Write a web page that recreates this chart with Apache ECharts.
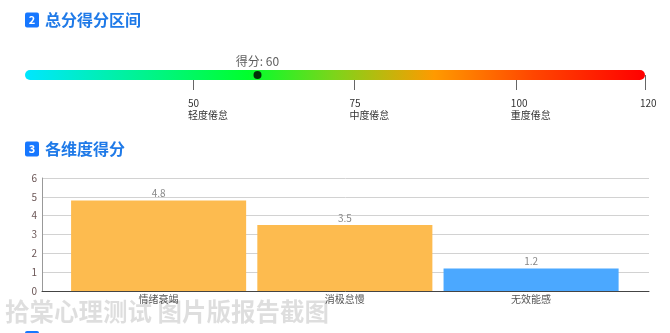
<!DOCTYPE html>
<html>
<head>
<meta charset="utf-8">
<script src="https://cdn.jsdelivr.net/npm/echarts@6/dist/echarts.min.js"></script>
<style>
html, body { margin: 0; padding: 0; background: #fff; }
#main { width: 670px; height: 333px; }
</style>
</head>
<body>
<div id="main"></div>
<script>
// total score range
var scoreMin = 24;
var scoreMax = 120;
var totalScore = 60;
var levelTicks = [50, 75, 100, 120];
var levelNames = ['轻度倦怠', '中度倦怠', '重度倦怠', ''];

// dimension scores
var dimNames = ['情绪衰竭', '消极怠慢', '无效能感'];
var dimScores = [4.8, 3.5, 1.2];
var dimAxisMax = 6;

var dimColors = ['#fdbb4f', '#fdbb4f', '#4ba8ff'];
var fontCN = '"Noto Sans CJK SC", "Noto Sans", sans-serif';

var chart = echarts.init(document.getElementById('main'));

var heading = function(num, title, y) {
    return [
        { type: 'rect', shape: { x: 25, y: y - 7.5, width: 14, height: 15, r: 2 }, style: { fill: '#1677ff' } },
        { type: 'text', x: 32, y: y, style: { text: num, font: 'bold 11px ' + fontCN, fill: '#fff', align: 'center', verticalAlign: 'middle' } },
        { type: 'text', x: 45, y: y, style: { text: title, font: 'bold 16px ' + fontCN, fill: '#1f7ae8', verticalAlign: 'middle' } }
    ];
};

var option = {
    animation: false,
    textStyle: { fontFamily: fontCN },
    grid: [
        { left: 25, right: 25, top: 70, height: 10 },
        { left: 42, right: 21, top: 178, bottom: 42 },
        { left: 65.5, right: 45.8, top: 178, bottom: 42 }
    ],
    xAxis: [
        {
            gridIndex: 0, type: 'value', min: scoreMin, max: scoreMax,
            axisLine: { show: false },
            splitLine: { show: false },
            axisTick: { show: true, customValues: levelTicks, length: 15, lineStyle: { color: '#666' } },
            axisLabel: {
                show: true, customValues: levelTicks, margin: 17, align: 'left',
                padding: [0, 0, 0, -5],
                fontSize: 10, lineHeight: 12, color: '#333',
                formatter: function(v) {
                    var i = levelTicks.indexOf(v);
                    return levelNames[i] ? v + '\n' + levelNames[i] : String(v);
                }
            }
        },
        {
            gridIndex: 1, type: 'category', data: dimNames,
            axisLine: { show: true, lineStyle: { color: '#444' } },
            axisTick: { show: false },
            axisLabel: { show: false }
        },
        {
            gridIndex: 2, type: 'category', data: dimNames,
            axisLine: { show: false },
            axisTick: { show: false },
            axisLabel: { fontSize: 10, color: '#555', margin: 3 }
        }
    ],
    yAxis: [
        { gridIndex: 0, type: 'value', min: -1, max: 1, show: false },
        {
            gridIndex: 1, type: 'value', min: 0, max: dimAxisMax, interval: 1,
            axisLine: { show: true, lineStyle: { color: '#999' } },
            axisTick: { show: false },
            axisLabel: { fontSize: 10, color: '#6b5656', margin: 5 },
            splitLine: { lineStyle: { color: '#d2d2d2' } }
        },
        { gridIndex: 2, type: 'value', min: 0, max: dimAxisMax, show: false }
    ],
    series: [
        {
            type: 'custom',
            xAxisIndex: 0, yAxisIndex: 0,
            clip: false,
            encode: { x: [0, 1], y: 2 },
            data: [[scoreMin, scoreMax, 0]],
            renderItem: function(params, api) {
                var start = api.coord([api.value(0), api.value(2)]);
                var end = api.coord([api.value(1), api.value(2)]);
                var h = 10;
                return {
                    type: 'rect',
                    shape: { x: start[0], y: start[1] - h / 2, width: end[0] - start[0], height: h, r: h / 2 },
                    style: {
                        fill: new echarts.graphic.LinearGradient(0, 0, 1, 0, [
                            { offset: 0, color: '#00e6ff' },
                            { offset: 0.36, color: '#00ff2c' },
                            { offset: 0.5, color: '#7ed41a' },
                            { offset: 0.66, color: '#ff9a00' },
                            { offset: 0.82, color: '#ff4600' },
                            { offset: 1, color: '#ff0000' }
                        ])
                    }
                };
            }
        },
        {
            type: 'scatter',
            xAxisIndex: 0, yAxisIndex: 0,
            data: [[totalScore, 0]],
            symbolSize: 8,
            itemStyle: { color: '#000' },
            z: 5,
            label: {
                show: true, position: 'top', distance: 4,
                fontSize: 12, color: '#333',
                formatter: function(p) { return '得分: ' + p.value[0]; }
            }
        },
        {
            type: 'bar',
            xAxisIndex: 2, yAxisIndex: 2,
            barCategoryGap: '6%',
            data: dimScores.map(function(v, i) {
                return { value: v, itemStyle: { color: dimColors[i] } };
            }),
            label: { show: true, position: 'top', distance: 2, fontSize: 10, color: '#888' }
        }
    ],
    graphic: [].concat(
        heading('2', '总分得分区间', 20),
        heading('3', '各维度得分', 149),
        [
            { type: 'rect', shape: { x: 25, y: 331, width: 14, height: 15, r: 2 }, style: { fill: '#1677ff' } },
            {
                type: 'text', x: 5, y: 312, z: 100,
                style: { text: '拾棠心理测试 图片版报告截图', font: 'bold 24.5px ' + fontCN, fill: 'rgba(0,0,0,0.13)', verticalAlign: 'middle' }
            }
        ]
    )
};

chart.setOption(option);
</script>
</body>
</html>
